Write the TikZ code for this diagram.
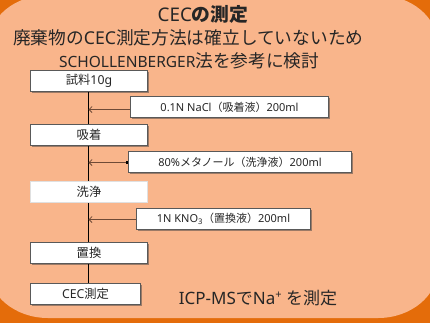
\documentclass[tikz,border=0pt]{standalone}
\usepackage{fontspec}
\setmainfont{Noto Sans}
\newfontfamily\jp{Noto Sans CJK JP}
\usetikzlibrary{arrows.meta}
\definecolor{bgdark}{HTML}{E46C0A}
\definecolor{bglight}{HTML}{F9B58B}
\definecolor{shad}{HTML}{9C7A66}
\definecolor{txt}{HTML}{262626}
\definecolor{arrc}{HTML}{6F4A36}
\newcommand\jt[1]{{\jp #1}}
\begin{document}
\begin{tikzpicture}[x=1pt,y=-1pt,
  stepbox/.style={draw=black!65, fill=white, line width=1pt, minimum width=117pt,
    minimum height=21pt, inner sep=0pt, text=txt, font=\fontsize{12.3}{14}\selectfont},
  sidebox/.style={stepbox, font=\fontsize{11}{13}\selectfont},
  shadowbox/.style={fill=shad},
  flow/.style={draw=black, line width=1pt},
  feed/.style={draw=arrc, line width=1pt, -{Straight Barb[length=3pt,width=6pt,line width=0.8pt]}},
  ttl/.style={text=txt, inner sep=0pt}
]
\useasboundingbox (0,0) rectangle (430,322);
\clip (0,0) rectangle (430,322);
\fill[bgdark] (-5,-5) rectangle (435,327);
\fill[bglight] (-12,45) .. controls (-12,17.4) and (14.9,-5) .. (48,-5)
  -- (378,-5) .. controls (411.1,-5) and (438,17.4) .. (438,45)
  -- (438,268) .. controls (438,295.6) and (411.1,318) .. (378,318)
  -- (48,318) .. controls (14.9,318) and (-12,295.6) .. (-12,268) -- cycle;

\node[ttl, font=\bfseries\fontsize{18.8}{20}\selectfont] (title) at (203,14.5) {CEC\jt{の測定}};
\node[ttl, font=\fontsize{17.7}{20}\selectfont] (l2) at (188.3,37.5) {\jt{廃棄物の}CEC\jt{測定方法は確立していないため}};
\node[ttl, font=\fontsize{17.7}{20}\selectfont] (l3) at (189.2,60.5) {{\fontsize{15.5}{20}\selectfont SCHOLLENBERGER}\jt{法を参考に検討}};

% shadows
\foreach \cx/\cy/\w/\h in {89/81/117/21, 89/135/117/21, 89/253/117/21, 85.5/294/110/21,
  229.5/107/198/21, 240/162/223/21, 223.5/219/174/21}
  \fill[shadowbox] (\cx-\w/2+1.2,\cy-\h/2+1.2) rectangle (\cx+\w/2+1.2,\cy+\h/2+1.2);

\node[stepbox] (s1) at (89,81) {\jt{試料}10g};
\node[stepbox] (s2) at (89,135) {\jt{吸着}};
\node[stepbox, draw=black!12] (s3) at (89,192) {\jt{洗浄}};
\node[stepbox] (s4) at (89,253) {\jt{置換}};
\node[stepbox, minimum width=110pt] (s5) at (85.5,294) {CEC\jt{測定}};

\node[sidebox, minimum width=198pt] (r1) at (229.5,107) {0.1N NaCl\jt{（吸着液）}200ml};
\node[sidebox, minimum width=223pt] (r2) at (240,162) {80\%\jt{メタノール（洗浄液）}200ml};
\node[sidebox, minimum width=174pt] (r3) at (223.5,219) {1N KNO\textsubscript{3}\jt{（置換液）}200ml};

\coordinate (vx) at (88.5,0);
\draw[flow] (s1.south -| vx) -- (s2.north -| vx);
\draw[flow] (s2.south -| vx) -- (s3.north -| vx);
\draw[flow] (s3.south -| vx) -- (s4.north -| vx);
\draw[flow] (s4.south -| vx) -- (s5.north -| vx);

\coordinate (a1) at ([yshift=-2.5pt]r1.west);
\coordinate (a2) at ([yshift=-0.5pt]r2.west);
\coordinate (a3) at ([yshift=-0.5pt]r3.west);
\draw[feed] (a1) -- (a1 -| vx);
\draw[feed, {Square[length=2.5pt,width=2.5pt,color=black]}-{Straight Barb[length=3pt,width=6pt,line width=0.8pt]}] (a2) -- (a2 -| vx);
\draw[feed] (a3) -- (a3 -| vx);

\node[ttl, font=\fontsize{17}{20}\selectfont] (icp) at (258,298) {ICP-MS\jt{で}Na\raisebox{0.33em}{\fontsize{11}{11}\selectfont +} \jt{を測定}};
\end{tikzpicture}
\end{document}
